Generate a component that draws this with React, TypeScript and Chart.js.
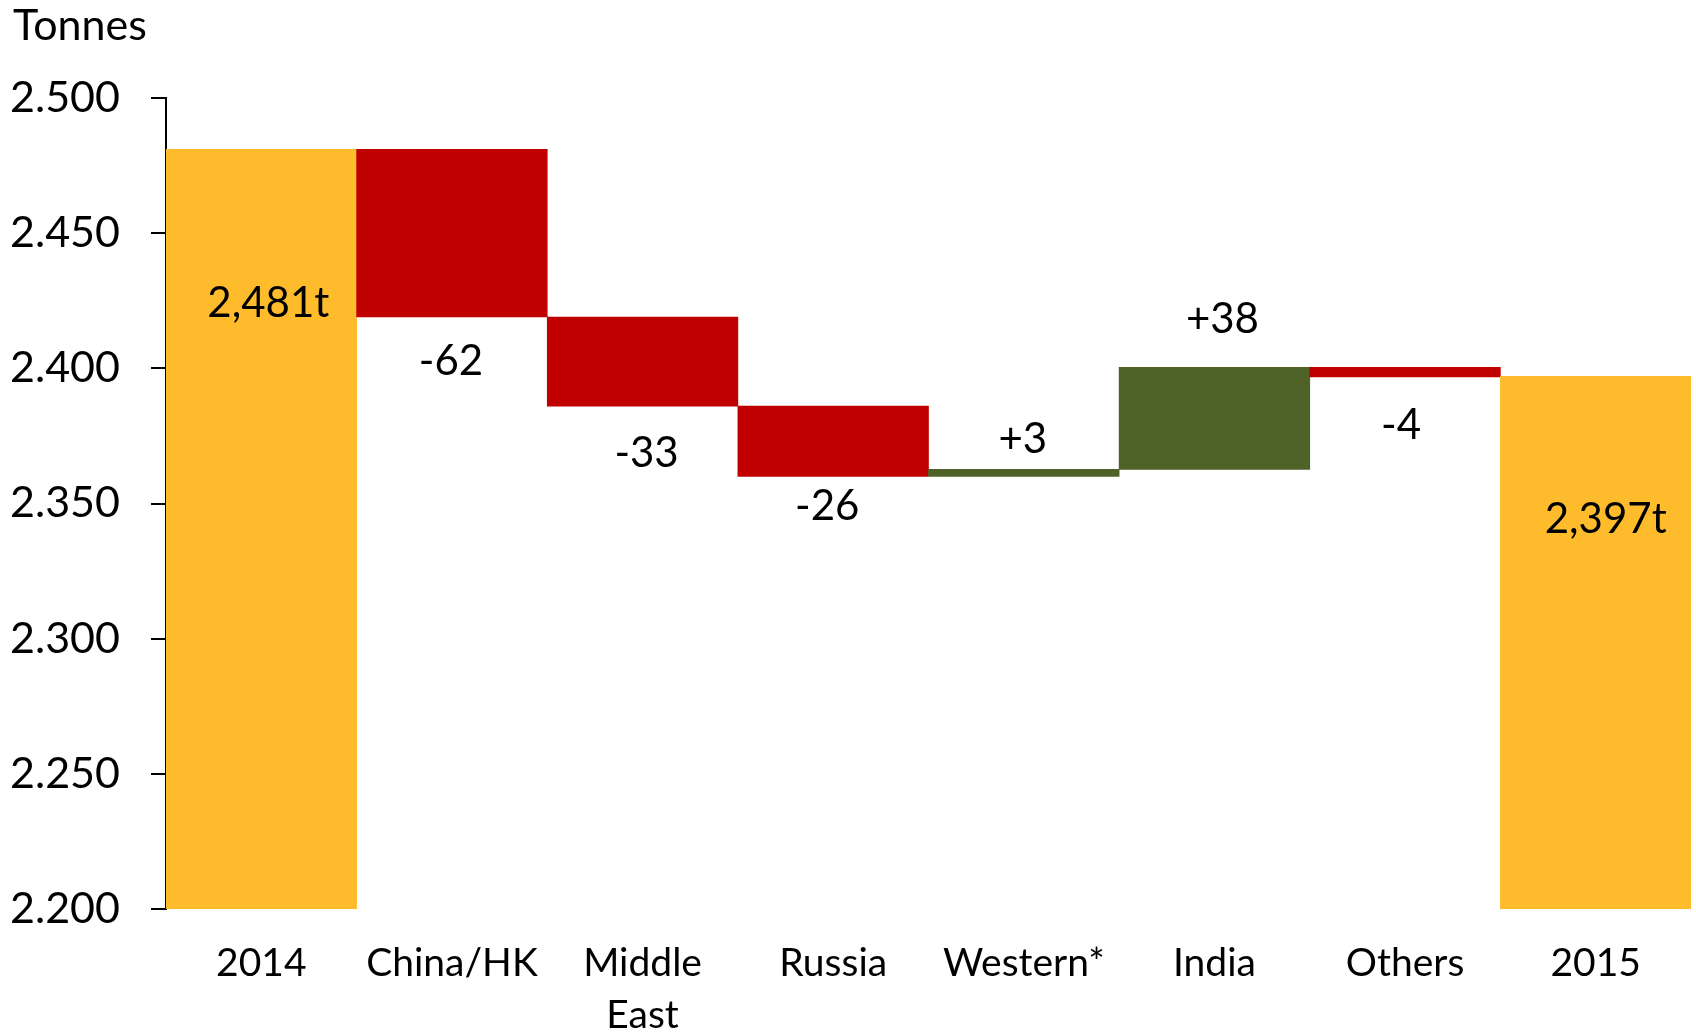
import React, { useEffect, useRef } from "react";
import { Chart, registerables } from "chart.js";

Chart.register(...registerables);

// ---- data ----
const categories: (string | string[])[] = [
  "2014",
  "China/HK",
  ["Middle", "East"],
  "Russia",
  "Western*",
  "India",
  "Others",
  "2015",
];
// floating bar ends (tonnes), as drawn
const barBottoms = [2200, 2419, 2386, 2360, 2360, 2362.6, 2396.8, 2200];
const barTops = [2481, 2481, 2419, 2386, 2362.6, 2400.4, 2400.4, 2397];
const valueLabels = ["2,481t", "-62", "-33", "-26", "+3", "+38", "-4", "2,397t"];
const barKinds = ["total", "down", "down", "down", "up", "up", "down", "total"];
const yTickLabels = ["2.200", "2.250", "2.300", "2.350", "2.400", "2.450", "2.500"];
const yUnit = "Tonnes";

// ---- styling ----
const kindColors: Record<string, string> = {
  total: "#FEBC2C",
  down: "#C00000",
  up: "#4F6228",
};
// [anchor, dx, dy] for value labels (pixel offsets from bar edge)
const labelPlacement: [string, number, number][] = [
  ["top", 7, 154],
  ["bottom", -1, 44],
  ["bottom", 4, 47],
  ["bottom", -6, 30],
  ["top", -1, -30],
  ["top", 8, -48],
  ["bottom", -4, 48],
  ["top", 10, 143],
];
const FONT = "Lato, 'Open Sans', sans-serif";

const labelPlugin = {
  id: "valueLabels",
  afterDatasetsDraw(chart: any) {
    const ctx = chart.ctx;
    const meta = chart.getDatasetMeta(0);
    ctx.save();
    ctx.font = `42px ${FONT}`;
    ctx.fillStyle = "#000";
    ctx.textAlign = "center";
    ctx.textBaseline = "middle";
    meta.data.forEach((el: any, i: number) => {
      const top = Math.min(el.y, el.base);
      const bottom = Math.max(el.y, el.base);
      const [anchor, dx, dy] = labelPlacement[i];
      const y = (anchor === "top" ? top : bottom) + dy;
      ctx.fillText(valueLabels[i], el.x + dx, y);
    });
    ctx.restore();
  },
};

const unitPlugin = {
  id: "unitTitle",
  afterDraw(chart: any) {
    const ctx = chart.ctx;
    ctx.save();
    ctx.font = `43px ${FONT}`;
    ctx.fillStyle = "#000";
    ctx.textAlign = "left";
    ctx.textBaseline = "alphabetic";
    ctx.fillText(yUnit, 13, 40);
    ctx.restore();
  },
};

export default function App() {
  const ref = useRef<HTMLCanvasElement | null>(null);

  useEffect(() => {
    document.body.style.margin = "0";
    const canvas = ref.current;
    if (!canvas) return;
    const chart = new Chart(canvas, {
      type: "bar",
      data: {
        labels: categories as any,
        datasets: [
          {
            data: barBottoms.map((b, i) => [b, barTops[i]]) as any,
            backgroundColor: barKinds.map((k) => kindColors[k]),
            borderWidth: 0,
            barPercentage: 1,
            categoryPercentage: 1,
          },
        ],
      },
      options: {
        responsive: false,
        animation: false,
        devicePixelRatio: 1,
        layout: { padding: { top: 98, right: 5, left: 0, bottom: 0 } },
        plugins: {
          legend: { display: false },
          tooltip: { enabled: false },
        },
        scales: {
          x: {
            grid: { display: false, drawTicks: false },
            border: { display: false },
            ticks: {
              color: "#000",
              padding: 28,
              maxRotation: 0,
              autoSkip: false,
              font: { family: FONT, size: 39, lineHeight: 1.333 },
            },
            afterFit: (s: any) => {
              s.height = 123;
            },
          },
          y: {
            min: 2200,
            max: 2500,
            grid: {
              drawOnChartArea: false,
              drawTicks: true,
              tickLength: 15,
              color: "#000",
              lineWidth: 2,
            },
            border: { display: true, color: "#000", width: 2 },
            ticks: {
              stepSize: 50,
              color: "#000",
              padding: 31,
              font: { family: FONT, size: 43 },
              callback: (_v: any, i: number) => yTickLabels[i],
            },
            afterFit: (s: any) => {
              s.width = 166;
            },
          },
        },
      },
      plugins: [labelPlugin, unitPlugin],
    });
    return () => chart.destroy();
  }, []);

  return (
    <div style={{ width: 1696, height: 1032, background: "#fff" }}>
      <canvas ref={ref} width={1696} height={1032} style={{ display: "block" }} />
    </div>
  );
}
